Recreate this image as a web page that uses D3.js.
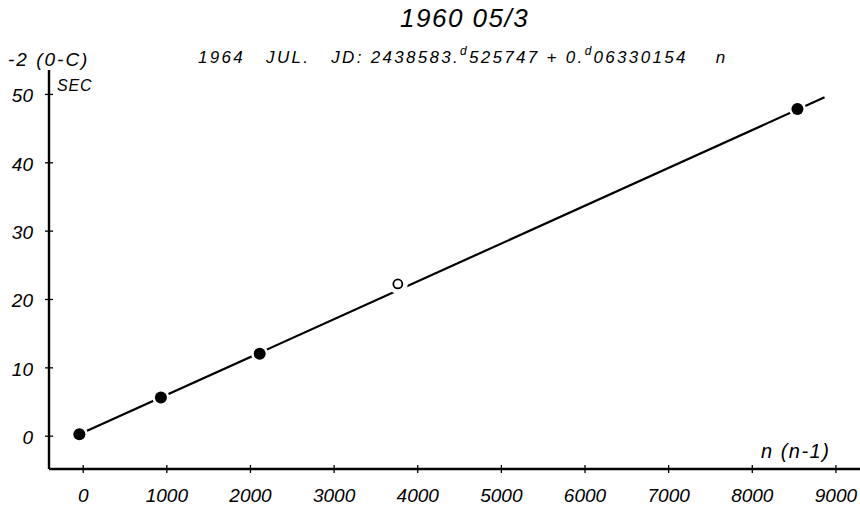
<!DOCTYPE html>
<html>
<head>
<meta charset="utf-8">
<script src="https://cdn.jsdelivr.net/npm/d3@7"></script>
<style>
  body { margin: 0; background: #fff; }
  text { font-family: "Liberation Sans", Arial, sans-serif; font-style: italic; fill: #000; white-space: pre; }
</style>
</head>
<body>
<div id="chart"></div>
<script>
const w = 860;
const h = 510;

// observations: cycle number n and (O-C) value
const obsN = [-40, 935, 2116, 8546];
const obsV = [0.2, 5.6, 12.0, 47.8];
// open (less certain) observation
const openN = [3768];
const openV = [22.2];
// drawn fit line end points
const fitN = [-40, 8870];
const fitV = [0.2, 49.5];

const xTicks = [0, 1000, 2000, 3000, 4000, 5000, 6000, 7000, 8000, 9000];
const yTicks = [0, 10, 20, 30, 40, 50];

const x = d3.scaleLinear().domain([-403, 9294]).range([49, 860]);
const y = d3.scaleLinear().domain([-4.87, 53.5]).range([469, 70]);

const svg = d3.select("#chart").append("svg")
    .attr("width", w)
    .attr("height", h);

// axes
const xAxis = d3.axisBottom(x).tickValues(xTicks).tickFormat(d3.format("d")).tickSize(0).tickPadding(19);
const yAxis = d3.axisLeft(y).tickValues(yTicks).tickSize(0).tickPadding(16);

const gx = svg.append("g").attr("transform", `translate(0, ${y.range()[0]})`).call(xAxis);
gx.select(".domain").attr("stroke-width", 2.4).attr("d", `M${x.range()[0]},0H${x.range()[1]}`);
gx.selectAll(".tick line").attr("y1", -4).attr("y2", 4).attr("stroke-width", 1.3);
gx.selectAll(".tick text").attr("font-size", 19).attr("font-family", "Liberation Sans").attr("font-style", "italic").attr("dy", "0.75em");

const gy = svg.append("g").attr("transform", `translate(${x.range()[0]}, 0)`).call(yAxis);
gy.select(".domain").attr("stroke-width", 2.4).attr("d", `M0,${y.range()[1]}V${y.range()[0]}`);
gy.selectAll(".tick line").attr("x1", -4).attr("x2", 4).attr("stroke-width", 1.3);
gy.selectAll(".tick text").attr("font-size", 19).attr("font-family", "Liberation Sans").attr("font-style", "italic").attr("dy", "0.42em");

// fit line
const line = d3.line().x(d => x(d[0])).y(d => y(d[1]));
svg.append("path")
    .datum(d3.zip(fitN, fitV))
    .attr("d", line)
    .attr("fill", "none")
    .attr("stroke", "#000")
    .attr("stroke-width", 2.2);

// gaps around the marks
svg.selectAll(".halo")
    .data(d3.zip(obsN, obsV))
    .enter().append("circle")
    .attr("cx", d => x(d[0]))
    .attr("cy", d => y(d[1]))
    .attr("r", 8.5)
    .attr("fill", "#fff");

svg.selectAll(".halo-open")
    .data(d3.zip(openN, openV))
    .enter().append("circle")
    .attr("cx", d => x(d[0]))
    .attr("cy", d => y(d[1]))
    .attr("r", 10)
    .attr("fill", "#fff");

svg.selectAll(".dot")
    .data(d3.zip(obsN, obsV))
    .enter().append("circle")
    .attr("cx", d => x(d[0]))
    .attr("cy", d => y(d[1]))
    .attr("r", 6)
    .attr("fill", "#000");

svg.selectAll(".open")
    .data(d3.zip(openN, openV))
    .enter().append("circle")
    .attr("cx", d => x(d[0]))
    .attr("cy", d => y(d[1]))
    .attr("r", 4.5)
    .attr("fill", "#fff")
    .attr("stroke", "#000")
    .attr("stroke-width", 1.8);

// titles
svg.append("text")
    .attr("x", 400).attr("y", 27)
    .attr("font-size", 26)
    .attr("letter-spacing", 1.5)
    .text("1960 05/3");

const sub = svg.append("text")
    .attr("x", 198).attr("y", 63)
    .attr("font-size", 17)
    .attr("letter-spacing", 2.3);
sub.append("tspan").text("1964   JUL.   JD: 2438583.");
sub.append("tspan").attr("font-size", 12).attr("dy", -8).text("d");
sub.append("tspan").attr("dy", 8).text("525747 + 0.");
sub.append("tspan").attr("font-size", 12).attr("dy", -8).text("d");
sub.append("tspan").attr("dy", 8).text("06330154    n");

svg.append("text")
    .attr("x", 8).attr("y", 66)
    .attr("font-size", 19)
    .attr("letter-spacing", 2)
    .text("-2 (0-C)");

svg.append("text")
    .attr("x", 57).attr("y", 91)
    .attr("font-size", 16)
    .attr("letter-spacing", 0.8)
    .text("SEC");

svg.append("text")
    .attr("x", 761).attr("y", 458)
    .attr("font-size", 20)
    .attr("letter-spacing", 1.5)
    .text("n (n-1)");
</script>
</body>
</html>
